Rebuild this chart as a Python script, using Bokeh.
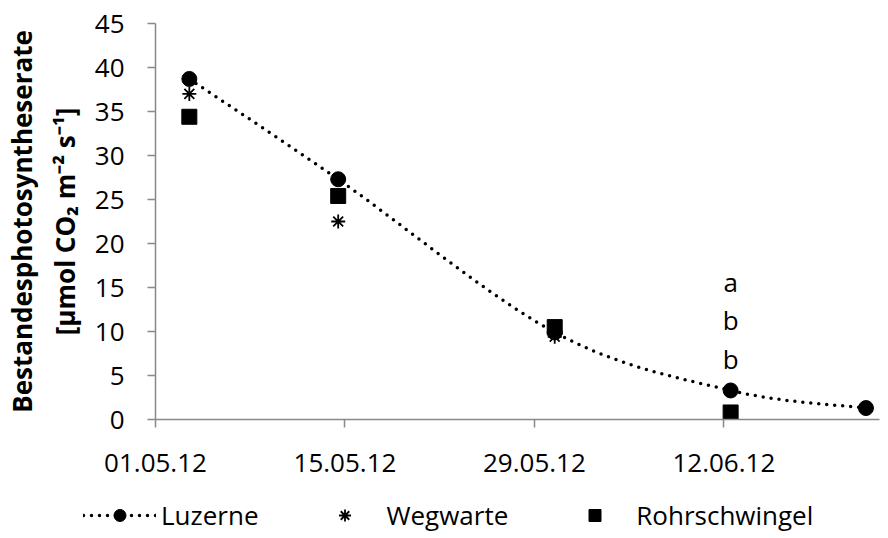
import numpy as np
import pandas as pd
from bokeh.plotting import figure
from bokeh.layouts import column, row
from bokeh.models import (FixedTicker, DatetimeTickFormatter, Legend, LegendItem,
                          Range1d, ColumnDataSource)
from bokeh.core.properties import value
from bokeh.embed import file_html
from bokeh.resources import INLINE

# ---------------- data ----------------
luz_dates = ["2012-05-03", "2012-05-14", "2012-05-30", "2012-06-12", "2012-06-22"]
luzerne = [38.7, 27.3, 9.9, 3.3, 1.3]

weg_dates = ["2012-05-03", "2012-05-14", "2012-05-30", "2012-06-12"]
wegwarte = [37.0, 22.5, 9.4, 0.7]

rohr_dates = ["2012-05-03", "2012-05-14", "2012-05-30", "2012-06-12"]
rohrschwingel = [34.4, 25.4, 10.5, 0.8]

tick_dates = ["2012-05-01", "2012-05-15", "2012-05-29", "2012-06-12"]
y_ticks = [0, 5, 10, 15, 20, 25, 30, 35, 40, 45]

sig_date = "2012-06-12"
sig_letters = ["a", "b", "b"]
sig_y = [15.6, 11.3, 6.9]

series_names = ["Luzerne", "Wegwarte", "Rohrschwingel"]

# ---------------- helpers ----------------
FONT = "Open Sans"
FS = "26px"
offset = pd.Timedelta(hours=12)  # Excel places points mid-day
x_start = pd.Timestamp("2012-05-01")
x_end = x_start + pd.Timedelta(days=53.5)


def to_x(dates):
    return pd.to_datetime(dates) + offset


def smooth_curve(dates, vals, n=30):
    """Catmull-Rom style smoothing (like Excel's smoothed line) in screen-like units."""
    d = np.array([(t - x_start) / pd.Timedelta(days=1) for t in to_x(dates)], dtype=float)
    v = np.array(vals, dtype=float)
    sx, sy = 13.6, 8.8
    P = np.column_stack([d * sx, v * sy])
    out = [P[0]]
    m = len(P)
    for i in range(m - 1):
        p0 = P[i - 1] if i > 0 else P[i]
        p1 = P[i]
        p2 = P[i + 1]
        p3 = P[i + 2] if i + 2 < m else P[i + 1]
        c1 = p1 + (p2 - p0) / 6.0
        c2 = p2 - (p3 - p1) / 6.0
        for t in np.linspace(0, 1, n)[1:]:
            pt = ((1 - t) ** 3) * p1 + 3 * ((1 - t) ** 2) * t * c1 + 3 * (1 - t) * t * t * c2 + t ** 3 * p2
            out.append(pt)
    out = np.array(out)
    xs = x_start + pd.to_timedelta(out[:, 0] / sx, unit="D")
    ys = out[:, 1] / sy
    return xs, ys


LINE_KW = dict(line_color="black", line_width=3.5, line_dash="0 8", line_cap="round")
CIRC_KW = dict(marker="circle", size=15, fill_color="black", line_color="black")
AST_KW = dict(marker="asterisk", size=14, line_color="black", line_width=1.8)
SQ_KW = dict(marker="square", size=15, fill_color="black", line_color="black")

# ---------------- main figure ----------------
p = figure(width=888, height=490, x_axis_type="datetime",
           output_backend="svg", toolbar_location=None,
           x_range=Range1d(start=x_start, end=x_end),
           y_range=Range1d(start=0, end=45),
           min_border_left=151, min_border_right=9,
           min_border_top=23, min_border_bottom=71)
p.outline_line_color = None
p.xgrid.grid_line_color = None
p.ygrid.grid_line_color = None
p.background_fill_color = "white"
p.border_fill_color = "white"

axis_col = "#898989"
for ax in (p.xaxis[0], p.yaxis[0]):
    ax.axis_line_color = axis_col
    ax.axis_line_width = 1.5
    ax.major_tick_line_color = axis_col
    ax.major_tick_line_width = 1.5
    ax.major_tick_in = 0
    ax.major_tick_out = 8
    ax.minor_tick_line_color = None
    ax.major_label_text_font = FONT
    ax.major_label_text_font_size = FS
    ax.major_label_text_color = "black"

p.xaxis.ticker = FixedTicker(ticks=[int(t.value // 10**6) for t in pd.to_datetime(tick_dates)])
fmt = "%d.%m.%y"
p.xaxis.formatter = DatetimeTickFormatter(days=fmt, months=fmt, years=fmt, hours=fmt,
                                          hourmin=fmt, minutes=fmt, minsec=fmt,
                                          seconds=fmt, milliseconds=fmt, microseconds=fmt)
p.xaxis.major_label_standoff = 26

p.yaxis.ticker = FixedTicker(ticks=y_ticks)
p.yaxis.major_label_standoff = 23
p.yaxis.axis_label = "Bestandesphotosyntheserate\n[µmol CO\u2082 m\u207b\u00b2 s\u207b\u00b9]"
p.yaxis.axis_label_text_font = FONT
p.yaxis.axis_label_text_font_style = "bold"
p.yaxis.axis_label_text_font_size = "26px"
p.yaxis.axis_label_text_color = "black"
p.yaxis.axis_label_standoff = 9

lx, ly = smooth_curve(luz_dates, luzerne)
p.line(lx, ly, **LINE_KW)
p.scatter(to_x(luz_dates), luzerne, **CIRC_KW)
p.scatter(to_x(weg_dates), wegwarte, **AST_KW)
p.scatter(to_x(rohr_dates), rohrschwingel, **SQ_KW)

sig_src = ColumnDataSource(dict(x=to_x([sig_date] * len(sig_letters)), y=sig_y, t=sig_letters))
p.text(x="x", y="y", text="t", source=sig_src, text_font=value(FONT),
       text_font_size=FS, text_align="center", text_baseline="middle", text_color="black")

# ---------------- legend strip ----------------
lg = figure(width=888, height=48, output_backend="svg", toolbar_location=None,
            x_range=Range1d(0, 1), y_range=Range1d(0, 1),
            x_axis_location=None, y_axis_location=None, min_border=0)
lg.outline_line_color = None
lg.xgrid.grid_line_color = None
lg.ygrid.grid_line_color = None
lg.border_fill_color = "white"
# off-screen proxy glyphs so the legend can draw its symbols
lg_line = lg.line([-5, -4], [-5, -5], **LINE_KW)
lg_circ = lg.scatter([-5], [-5], **CIRC_KW)
lg_ast = lg.scatter([-5], [-5], **AST_KW)
lg_sq = lg.scatter([-5], [-5], **SQ_KW)

legend = Legend(items=[LegendItem(label=series_names[0], renderers=[lg_line, lg_circ]),
                       LegendItem(label=series_names[1], renderers=[lg_ast]),
                       LegendItem(label=series_names[2], renderers=[lg_sq])],
                orientation="horizontal", location=(83, 5),
                glyph_width=73, glyph_height=30, spacing=50, label_standoff=5,
                padding=0, margin=0, border_line_alpha=0, background_fill_alpha=0,
                label_text_font=FONT, label_text_font_size=FS, label_text_color="black")
lg.add_layout(legend, "center")

layout = column(p, row(lg, spacing=0), spacing=0)
open("out.html", "w").write(file_html(layout, INLINE))
